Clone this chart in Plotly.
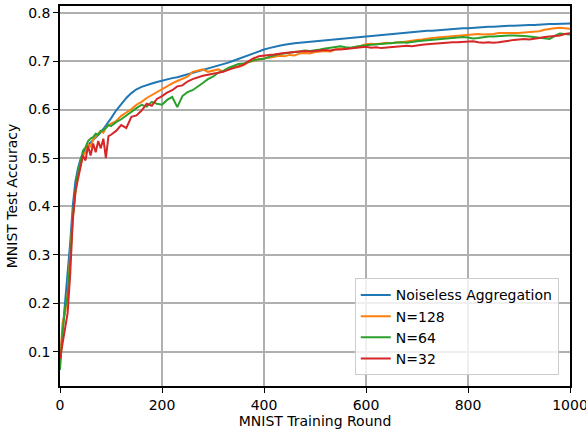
import plotly.graph_objects as go

rounds = [0, 5, 10, 15, 20, 25, 30, 35, 40, 45, 50, 55, 60, 65, 70, 75, 80, 85, 90, 95] + list(range(100, 1001, 10))

noiseless = [0.080, 0.140, 0.200, 0.255, 0.325, 0.400, 0.450, 0.478, 0.497, 0.510,
             0.519, 0.526, 0.532, 0.537, 0.542, 0.547, 0.553, 0.560, 0.567, 0.574,
             0.582, 0.598, 0.612, 0.624, 0.634, 0.642, 0.647, 0.651, 0.654, 0.657,
             0.660, 0.662, 0.665, 0.667, 0.670, 0.672, 0.675, 0.678, 0.681, 0.684,
             0.688, 0.691, 0.694, 0.697, 0.701, 0.705, 0.709, 0.713, 0.717, 0.721,
             0.724, 0.727, 0.730, 0.732, 0.734, 0.736, 0.737, 0.738, 0.739, 0.740,
             0.741, 0.742, 0.743, 0.744, 0.745, 0.746, 0.747, 0.748, 0.750, 0.751,
             0.752, 0.753, 0.754, 0.755, 0.756, 0.757, 0.757, 0.758, 0.759, 0.760,
             0.761, 0.762, 0.763, 0.763, 0.764, 0.765, 0.766, 0.766, 0.767, 0.768,
             0.768, 0.769, 0.770, 0.770, 0.771, 0.771, 0.772, 0.772, 0.773, 0.773,
             0.774, 0.774, 0.775, 0.775, 0.776, 0.776, 0.777, 0.777, 0.777, 0.778,
             0.778]

n128 = [0.072, 0.160, 0.180, 0.220, 0.300, 0.380, 0.425, 0.462, 0.483, 0.505,
        0.512, 0.528, 0.524, 0.538, 0.545, 0.550, 0.556, 0.552, 0.563, 0.567,
        0.571, 0.576, 0.587, 0.594, 0.601, 0.610, 0.616, 0.624, 0.630, 0.636,
        0.643, 0.648, 0.654, 0.659, 0.664, 0.668, 0.678, 0.681, 0.683, 0.678,
        0.680, 0.683, 0.679, 0.684, 0.687, 0.688, 0.692, 0.698, 0.701, 0.704,
        0.706, 0.707, 0.709, 0.711, 0.710, 0.713, 0.712, 0.716, 0.717, 0.716,
        0.719, 0.720, 0.721, 0.720, 0.724, 0.726, 0.725, 0.727, 0.729, 0.732,
        0.735, 0.736, 0.735, 0.737, 0.738, 0.737, 0.739, 0.739, 0.741, 0.742,
        0.744, 0.745, 0.747, 0.748, 0.749, 0.750, 0.750, 0.751, 0.752, 0.753,
        0.754, 0.755, 0.756, 0.755, 0.755, 0.756, 0.758, 0.758, 0.757, 0.758,
        0.758, 0.759, 0.760, 0.760, 0.762, 0.765, 0.767, 0.768, 0.769, 0.768,
        0.767]

n64 = [0.062, 0.140, 0.190, 0.215, 0.290, 0.375, 0.430, 0.470, 0.492, 0.515,
       0.522, 0.535, 0.540, 0.543, 0.550, 0.548, 0.556, 0.557, 0.562, 0.568,
       0.566, 0.574, 0.580, 0.588, 0.596, 0.603, 0.610, 0.606, 0.616, 0.612,
       0.610, 0.620, 0.626, 0.605, 0.628, 0.636, 0.640, 0.647, 0.655, 0.663,
       0.668, 0.676, 0.680, 0.686, 0.690, 0.694, 0.695, 0.699, 0.702, 0.704,
       0.705, 0.709, 0.712, 0.715, 0.716, 0.718, 0.719, 0.720, 0.722, 0.721,
       0.722, 0.724, 0.726, 0.728, 0.730, 0.731, 0.729, 0.728, 0.730, 0.732,
       0.733, 0.734, 0.735, 0.735, 0.736, 0.737, 0.738, 0.739, 0.738, 0.740,
       0.741, 0.742, 0.743, 0.744, 0.745, 0.746, 0.748, 0.749, 0.750, 0.750,
       0.749, 0.747, 0.748, 0.750, 0.751, 0.751, 0.752, 0.752, 0.753, 0.753,
       0.753, 0.752, 0.751, 0.750, 0.748, 0.747, 0.746, 0.752, 0.757, 0.756,
       0.755]

n32 = [0.085, 0.120, 0.150, 0.180, 0.260, 0.370, 0.430, 0.455, 0.482, 0.505,
       0.495, 0.525, 0.505, 0.530, 0.512, 0.535, 0.520, 0.540, 0.500, 0.545,
       0.548, 0.556, 0.568, 0.562, 0.585, 0.588, 0.598, 0.612, 0.608, 0.622,
       0.628, 0.635, 0.640, 0.648, 0.650, 0.658, 0.663, 0.667, 0.670, 0.672,
       0.674, 0.676, 0.678, 0.682, 0.686, 0.690, 0.693, 0.700, 0.706, 0.710,
       0.712, 0.713, 0.714, 0.716, 0.717, 0.718, 0.719, 0.719, 0.721, 0.720,
       0.721, 0.722, 0.723, 0.722, 0.724, 0.724, 0.725, 0.726, 0.727, 0.729,
       0.730, 0.728, 0.729, 0.727, 0.728, 0.729, 0.730, 0.731, 0.732, 0.731,
       0.733, 0.734, 0.735, 0.736, 0.737, 0.737, 0.738, 0.739, 0.739, 0.740,
       0.740, 0.741, 0.739, 0.738, 0.739, 0.738, 0.739, 0.740, 0.742, 0.744,
       0.745, 0.746, 0.745, 0.746, 0.748, 0.750, 0.751, 0.753, 0.753, 0.756,
       0.758]

series_names = ["Noiseless Aggregation", "N=128", "N=64", "N=32"]
series_values = [noiseless, n128, n64, n32]
series_colors = ["#1f77b4", "#ff7f0e", "#2ca02c", "#d62728"]

x_ticks = [0, 200, 400, 600, 800, 1000]
y_ticks = [0.1, 0.2, 0.3, 0.4, 0.5, 0.6, 0.7, 0.8]

FONT = dict(family="DejaVu Sans", size=14, color="black")

fig = go.Figure()
for name, vals, col in zip(series_names, series_values, series_colors):
    fig.add_trace(go.Scatter(x=rounds, y=vals, mode="lines", name=name,
                             line=dict(color=col, width=2)))

axis_common = dict(showline=True, mirror=True, linecolor="black", linewidth=1.6,
                   ticks="outside", ticklen=5, tickwidth=1.4, tickcolor="black",
                   showgrid=True, gridcolor="#b0b0b0", gridwidth=1.6, zeroline=False,
                   automargin=False, ticklabeloverflow="allow",
                   tickfont=FONT)

fig.update_xaxes(range=[0, 1000], tickvals=x_ticks,
                 title=dict(text="MNIST Training Round", standoff=5, font=FONT),
                 **axis_common)
fig.update_yaxes(range=[0.029, 0.814], tickvals=y_ticks, tickformat=".1f",
                 title=dict(text="MNIST Test Accuracy", standoff=7, font=FONT),
                 **axis_common)

fig.update_layout(
    width=586, height=433,
    margin=dict(l=60, r=16, t=6, b=47),
    plot_bgcolor="white", paper_bgcolor="white",
    font=FONT,
    legend=dict(x=0.978, y=0.028, xanchor="right", yanchor="bottom",
                bgcolor="rgba(255,255,255,0.8)", bordercolor="#cccccc", borderwidth=1,
                font=FONT, tracegroupgap=0, itemwidth=30),
    showlegend=True,
)

fig.write_html("out.html", config={"displayModeBar": False},
               post_script="document.body.style.margin='0';document.body.style.overflow='hidden';")
